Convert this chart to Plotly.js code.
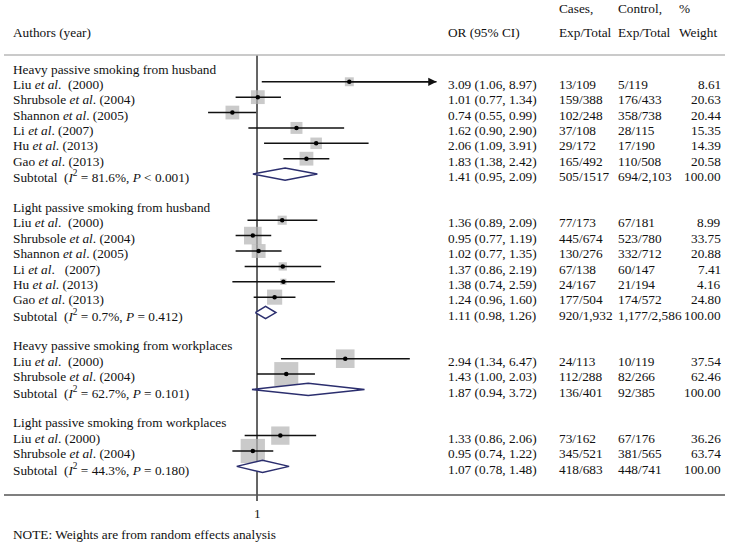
<!DOCTYPE html>
<html>
<head>
<meta charset="utf-8">
<script src="https://cdn.plot.ly/plotly-3.0.1.min.js"></script>
<style>html,body{margin:0;padding:0;background:#fff;}#chart{width:729px;height:546px;}</style>
</head>
<body>
<div id="chart"></div>
<script>
// ---------- DATA ----------
const groupTitles = [
  "Heavy passive smoking from husband",
  "Light passive smoking from husband",
  "Heavy passive smoking from workplaces",
  "Light passive smoking from workplaces"
];
const studyLabels = [
  "Liu <i>et al</i>.  (2000)", "Shrubsole <i>et al</i>. (2004)", "Shannon <i>et al</i>. (2005)",
  "Li <i>et al</i>. (2007)", "Hu <i>et al</i>. (2013)", "Gao <i>et al</i>. (2013)",
  "Liu <i>et al</i>.  (2000)", "Shrubsole <i>et al</i>. (2004)", "Shannon <i>et al</i>. (2005)",
  "Li <i>et al</i>.   (2007)", "Hu <i>et al</i>. (2013)", "Gao <i>et al</i>. (2013)",
  "Liu <i>et al</i>.  (2000)", "Shrubsole <i>et al</i>. (2004)",
  "Liu <i>et al</i>. (2000)", "Shrubsole <i>et al</i>. (2004)"
];
const studyGroup = [0,0,0,0,0,0, 1,1,1,1,1,1, 2,2, 3,3];
const studyOR   = [3.09, 1.01, 0.74, 1.62, 2.06, 1.83, 1.36, 0.95, 1.02, 1.37, 1.38, 1.24, 2.94, 1.43, 1.33, 0.95];
const studyLow  = [1.06, 0.77, 0.55, 0.90, 1.09, 1.38, 0.89, 0.77, 0.77, 0.86, 0.74, 0.96, 1.34, 1.00, 0.86, 0.74];
const studyHigh = [8.97, 1.34, 0.99, 2.90, 3.91, 2.42, 2.09, 1.19, 1.35, 2.19, 2.59, 1.60, 6.47, 2.03, 2.06, 1.22];
const studyCases   = ["13/109","159/388","102/248","37/108","29/172","165/492","77/173","445/674","130/276","67/138","24/167","177/504","24/113","112/288","73/162","345/521"];
const studyControls= ["5/119","176/433","358/738","28/115","17/190","110/508","67/181","523/780","332/712","60/147","21/194","174/572","10/119","82/266","67/176","381/565"];
const studyWeight = [8.61, 20.63, 20.44, 15.35, 14.39, 20.58, 8.99, 33.75, 20.88, 7.41, 4.16, 24.80, 37.54, 62.46, 36.26, 63.74];

const subI2  = ["81.6%", "0.7%", "62.7%", "44.3%"];
const subP   = ["&lt; 0.001", "= 0.412", "= 0.101", "= 0.180"];
const subOR   = [1.41, 1.11, 1.87, 1.07];
const subLow  = [0.95, 0.98, 0.94, 0.78];
const subHigh = [2.09, 1.26, 3.72, 1.48];
const subCases    = ["505/1517", "920/1,932", "136/401", "418/683"];
const subControls = ["694/2,103", "1,177/2,586", "92/385", "448/741"];
const subWeight   = ["100.00", "100.00", "100.00", "100.00"];

const axisTick = 1;
const arrowBeyond = 8;  // CIs reaching past this get an arrow
const noteText = "NOTE: Weights are from random effects analysis";

// ---------- LAYOUT OF ROWS ----------
const W = 729, H = 546;
const rowTop = 69, rowStep = 15.385;
const px2row = p => (p - rowTop) / rowStep;
const px2paper = p => p / W;
const colLabel = 12, colOR = 447, colCases = 558, colCtrl = 617, colWeightR = 722;
const font = {family: "Liberation Serif, Times New Roman, serif", size: 13.3, color: "#111"};

const headerRow = [], studyRow = [], subRow = [];
let r = 0;
for (let g = 0; g < groupTitles.length; g++) {
  headerRow.push(r); r++;
  studyGroup.forEach((sg, i) => { if (sg === g) { studyRow[i] = r; r++; } });
  subRow.push(r); r += 2;
}
const markShift = -0.17; // marks sit slightly above the text centre
const mStudy = studyRow.map(v => v + markShift);
const mSub = subRow.map(v => v + markShift);

const annotations = [];
function txt(text, xp, row, anchor, extra) {
  annotations.push(Object.assign({
    text: text, xref: "paper", yref: "y", x: px2paper(xp), y: row,
    xanchor: anchor || "left", yanchor: "middle", showarrow: false, font: font, borderpad: 0
  }, extra || {}));
}

// headers
const h1 = px2row(8), h2 = px2row(32);
txt("Authors (year)", colLabel, h2);
txt("OR (95% CI)", colOR, h2);
txt("Cases,", colCases, h1); txt("Exp/Total", colCases, h2);
txt("Control,", colCtrl, h1); txt("Exp/Total", colCtrl, h2);
txt("%", 678, h1); txt("Weight", 678, h2);

const fmt = v => v.toFixed(2);
groupTitles.forEach((t, g) => txt(t, colLabel, headerRow[g]));
studyLabels.forEach((t, i) => {
  const y = studyRow[i];
  txt(t, colLabel, y);
  txt(fmt(studyOR[i]) + " (" + fmt(studyLow[i]) + ", " + fmt(studyHigh[i]) + ")", colOR, y);
  txt(studyCases[i], colCases, y);
  txt(studyControls[i], colCtrl, y);
  txt(fmt(studyWeight[i]), colWeightR, y, "right");
});
subOR.forEach((v, g) => {
  const y = subRow[g];
  txt("Subtotal  (<i>I</i><sup>2</sup> = " + subI2[g] + ", <i>P</i> " + subP[g] + ")", colLabel, y);
  txt(fmt(v) + " (" + fmt(subLow[g]) + ", " + fmt(subHigh[g]) + ")", colOR, y);
  txt(subCases[g], colCases, y);
  txt(subControls[g], colCtrl, y);
  txt(subWeight[g], colWeightR, y, "right");
});
// x tick label and note
annotations.push({text: String(axisTick), xref: "x", yref: "y", x: Math.log10(axisTick), y: px2row(513),
  showarrow: false, font: font, xanchor: "center", yanchor: "middle"});
txt(noteText, colLabel, px2row(534));

// arrows for CIs beyond the plotted range
studyHigh.forEach((hi, i) => {
  if (hi > arrowBeyond) {
    annotations.push({text: "", xref: "x", yref: "y", axref: "x", ayref: "y",
      x: Math.log10(hi), y: mStudy[i], ax: Math.log10(studyOR[i]), ay: mStudy[i],
      showarrow: true, arrowhead: 2, arrowsize: 1.1, arrowwidth: 1.5, arrowcolor: "#111"});
  }
});

// ---------- TRACES ----------
const traces = [];
// null line
traces.push({x: [axisTick, axisTick], y: [px2row(55), px2row(501)], mode: "lines",
  line: {color: "#333", width: 1.5}, hoverinfo: "skip", showlegend: false});
// squares
traces.push({x: studyOR, y: mStudy, mode: "markers", hoverinfo: "skip", showlegend: false,
  marker: {symbol: "square", color: "#b3b3b3", size: studyWeight.map(w => 3.04 * Math.sqrt(w)), line: {width: 0}}});
// CI lines
const cx = [], cy = [];
studyOR.forEach((v, i) => { cx.push(studyLow[i], studyHigh[i], null); cy.push(mStudy[i], mStudy[i], null); });
traces.push({x: cx, y: cy, mode: "lines", line: {color: "#111", width: 1.5}, hoverinfo: "skip", showlegend: false, connectgaps: false});
// centre dots
traces.push({x: studyOR, y: mStudy, mode: "markers", hoverinfo: "skip", showlegend: false,
  marker: {symbol: "circle", color: "#000", size: 4.5}});
// diamonds
const dh = 0.4;
subOR.forEach((v, g) => {
  const y = mSub[g];
  traces.push({x: [subLow[g], v, subHigh[g], v, subLow[g]], y: [y, y - dh, y, y + dh, y],
    mode: "lines", fill: "toself", fillcolor: "#fff", line: {color: "#2b2e6e", width: 1.5},
    hoverinfo: "skip", showlegend: false});
});

const layout = {
  width: W, height: H, margin: {l: 0, r: 0, t: 0, b: 0},
  paper_bgcolor: "#fff", plot_bgcolor: "#fff",
  xaxis: {type: "log", range: [-1.364, 2.505], visible: false, fixedrange: true},
  yaxis: {range: [px2row(H), px2row(0)], visible: false, fixedrange: true},
  showlegend: false,
  annotations: annotations,
  shapes: [
    {type: "line", xref: "paper", yref: "y", x0: px2paper(4), x1: px2paper(725), y0: px2row(55), y1: px2row(55),
     line: {color: "#b8b8b8", width: 1.5}},
    {type: "line", xref: "paper", yref: "y", x0: px2paper(4), x1: px2paper(725), y0: px2row(495), y1: px2row(495),
     line: {color: "#555", width: 1.5}}
  ]
};
Plotly.newPlot("chart", traces, layout, {staticPlot: true, displayModeBar: false});
</script>
</body>
</html>
